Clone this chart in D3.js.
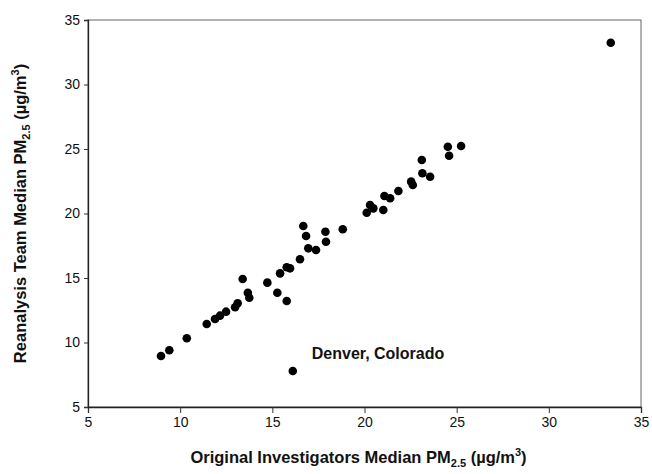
<!DOCTYPE html>
<html>
<head>
<meta charset="utf-8">
<script src="https://cdn.jsdelivr.net/npm/d3@7"></script>
<style>
  html, body { margin: 0; padding: 0; background: #fff; }
  svg { display: block; font-family: "Liberation Sans", Arial, sans-serif; }
</style>
</head>
<body>
<svg id="chart" width="652" height="474"></svg>
<script>
// Data: Original Investigators median PM2.5 (x) vs Reanalysis Team median PM2.5 (y)
const originalPM = [8.96, 9.41, 10.36, 11.44, 11.89, 12.16, 12.49, 12.98, 13.12, 13.39, 13.67, 13.75,
  14.73, 15.27, 15.78, 15.42, 15.78, 15.96, 16.50, 16.68, 16.83, 16.95, 17.37, 17.88, 17.91, 18.82,
  20.12, 20.30, 20.48, 21.02, 21.08, 21.39, 21.84, 22.53, 22.62, 23.11, 23.14, 23.56, 24.52, 24.59,
  25.24, 33.36, 16.11];
const reanalysisPM = [8.95, 9.40, 10.33, 11.43, 11.82, 12.08, 12.39, 12.73, 13.04, 14.92, 13.86, 13.47,
  14.64, 13.86, 13.22, 15.36, 15.83, 15.75, 16.45, 19.03, 18.26, 17.30, 17.17, 18.59, 17.81, 18.78,
  20.06, 20.66, 20.40, 20.27, 21.36, 21.18, 21.74, 22.47, 22.21, 24.15, 23.12, 22.85, 25.18, 24.48,
  25.23, 33.24, 7.79];
const xTicks = [5, 10, 15, 20, 25, 30, 35];
const yTicks = [5, 10, 15, 20, 25, 30, 35];
const annotation = { label: "Denver, Colorado", x: 16.11, y: 7.79 };

const svg = d3.select("#chart");
const margin = { left: 88, right: 11, top: 20, bottom: 67 };
const W = 652, H = 474;

const x = d3.scaleLinear().domain([5, 35]).range([margin.left, W - margin.right]);
const y = d3.scaleLinear().domain([5, 35]).range([H - margin.bottom, margin.top]);

// frame (top & right)
svg.append("rect")
  .attr("x", x(5)).attr("y", y(35))
  .attr("width", x(35) - x(5)).attr("height", y(5) - y(35))
  .attr("fill", "none").attr("stroke", "#666").attr("stroke-width", 1);

const xAxis = svg.append("g")
  .attr("transform", `translate(0,${y(5)})`)
  .call(d3.axisBottom(x).tickValues(xTicks).tickSize(6).tickPadding(4).tickFormat(d3.format("d")));
const yAxis = svg.append("g")
  .attr("transform", `translate(${x(5)},0)`)
  .call(d3.axisLeft(y).tickValues(yTicks).tickSize(4).tickPadding(4).tickFormat(d3.format("d")));

[xAxis, yAxis].forEach(g => {
  g.select(".domain").attr("stroke", "#222").attr("stroke-width", 1.3);
  g.selectAll(".tick line").attr("stroke", "#333");
  g.selectAll(".tick text").attr("fill", "#111").style("font-size", "14px")
    .style("font-family", "'Liberation Sans', Arial, sans-serif");
});

// points
svg.append("g").selectAll("circle")
  .data(originalPM.map((v, i) => [v, reanalysisPM[i]]))
  .join("circle")
  .attr("cx", d => x(d[0]))
  .attr("cy", d => y(d[1]))
  .attr("r", 4.3)
  .attr("fill", "#000");

// annotation
svg.append("text")
  .attr("x", x(annotation.x) + 19)
  .attr("y", y(annotation.y) - 12)
  .style("font-size", "16px").style("font-weight", "bold")
  .attr("fill", "#111")
  .text(annotation.label);

// x axis title
const xt = svg.append("text")
  .attr("x", (x(5) + x(35)) / 2 - 6)
  .attr("y", 463)
  .attr("text-anchor", "middle")
  .style("font-size", "16.5px").style("font-weight", "bold").attr("fill", "#111");
xt.append("tspan").text("Original Investigators Median PM");
xt.append("tspan").attr("dy", 4).style("font-size", "11px").text("2.5");
xt.append("tspan").attr("dy", -4).text(" (µg/m");
xt.append("tspan").attr("dy", -7).style("font-size", "11px").text("3");
xt.append("tspan").attr("dy", 7).text(")");

// y axis title
const yt = svg.append("text")
  .attr("transform", `translate(26,${(y(5) + y(35)) / 2}) rotate(-90)`)
  .attr("text-anchor", "middle")
  .style("font-size", "16.5px").style("font-weight", "bold").attr("fill", "#111");
yt.append("tspan").text("Reanalysis Team Median PM");
yt.append("tspan").attr("dy", 4).style("font-size", "11px").text("2.5");
yt.append("tspan").attr("dy", -4).text(" (µg/m");
yt.append("tspan").attr("dy", -7).style("font-size", "11px").text("3");
yt.append("tspan").attr("dy", 7).text(")");
</script>
</body>
</html>
